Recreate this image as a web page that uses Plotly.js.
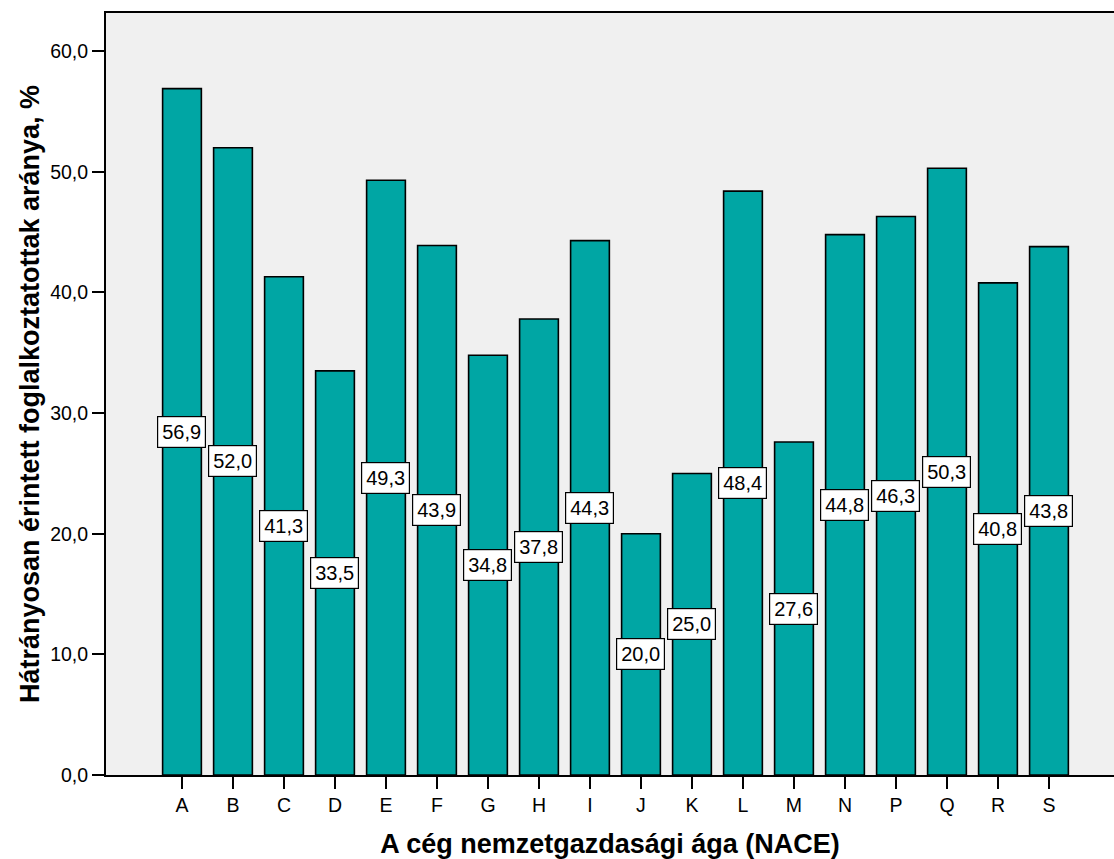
<!DOCTYPE html>
<html>
<head>
<meta charset="utf-8">
<script src="https://cdn.plot.ly/plotly-3.0.1.min.js"></script>
<style>
  html, body { margin: 0; padding: 0; background: #ffffff; }
  #chart { width: 1114px; height: 859px; }
</style>
</head>
<body>
<div id="chart"></div>
<script>
// NACE sectors and the share of disadvantaged employees (%)
const sectors = ["A", "B", "C", "D", "E", "F", "G", "H", "I", "J", "K", "L", "M", "N", "P", "Q", "R", "S"];
const shares = [56.9, 52.0, 41.3, 33.5, 49.3, 43.9, 34.8, 37.8, 44.3, 20.0, 25.0, 48.4, 27.6, 44.8, 46.3, 50.3, 40.8, 43.8];
const yTicks = [0, 10, 20, 30, 40, 50, 60];

const fmt = v => v.toFixed(1).replace('.', ',');

const bars = {
  type: 'bar',
  x: sectors,
  y: shares,
  width: 0.76,
  marker: { color: '#00A6A4', line: { color: '#000000', width: 1.6 } },
  hoverinfo: 'x+y'
};

// value labels sit halfway up each bar in a white box
const labels = sectors.map((s, i) => ({
  x: s,
  y: shares[i] / 2,
  xref: 'x',
  yref: 'y',
  text: fmt(shares[i]),
  showarrow: false,
  font: { family: 'Liberation Sans, Arial, sans-serif', size: 20, color: '#000000' },
  bgcolor: '#ffffff',
  bordercolor: '#000000',
  borderwidth: 1.2,
  borderpad: 4
}));

const layout = {
  width: 1114,
  height: 859,
  margin: { l: 106, r: 0, t: 13, b: 84 },
  paper_bgcolor: '#ffffff',
  plot_bgcolor: '#F0F0F0',
  separators: ', ',
  showlegend: false,
  font: { family: 'Liberation Sans, Arial, sans-serif', color: '#000000' },
  xaxis: {
    type: 'category',
    range: [-1.49, 18.275],
    showgrid: false,
    zeroline: false,
    showline: true,
    mirror: true,
    linecolor: '#000000',
    linewidth: 2,
    ticks: 'outside',
    ticklen: 12,
    tickwidth: 2,
    tickcolor: '#000000',
    tickfont: { size: 19.5 },
    title: {
      text: 'A cég nemzetgazdasági ága (NACE)',
      font: { size: 27, weight: 'bold' },
      standoff: 19
    }
  },
  yaxis: {
    range: [0, 63.17],
    tickvals: yTicks,
    ticktext: yTicks.map(fmt),
    showgrid: false,
    zeroline: false,
    showline: true,
    linecolor: '#000000',
    linewidth: 2,
    ticks: 'outside',
    ticklen: 12,
    tickwidth: 2,
    tickcolor: '#000000',
    tickfont: { size: 19.5 },
    title: {
      text: 'Hátrányosan érintett foglalkoztatottak aránya, %',
      font: { size: 27, weight: 'bold' },
      standoff: 3
    }
  },
  annotations: labels
};

Plotly.newPlot('chart', [bars], layout, { displayModeBar: false, staticPlot: true });
</script>
</body>
</html>
